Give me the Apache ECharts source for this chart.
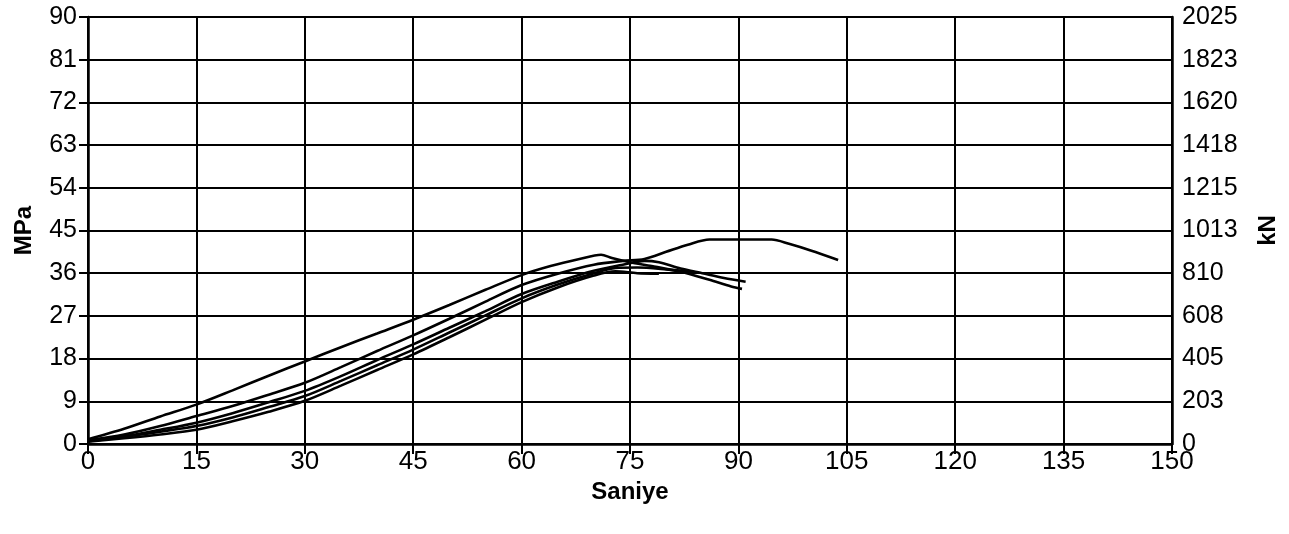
<!DOCTYPE html>
<html>
<head>
<meta charset="utf-8">
<script src="https://cdn.jsdelivr.net/npm/echarts@6/dist/echarts.min.js"></script>
<style>
html,body{margin:0;padding:0;background:#fff;}
#chart{width:1289px;height:534px;}
</style>
</head>
<body>
<div id="chart"></div>
<script>
// Tick labels
const xTicks = [0, 15, 30, 45, 60, 75, 90, 105, 120, 135, 150];
const leftTicks = [0, 9, 18, 27, 36, 45, 54, 63, 72, 81, 90];
const rightTicks = ['0', '203', '405', '608', '810', '1013', '1215', '1418', '1620', '1823', '2025'];

// Series: [seconds, MPa]
const curve1 = [[0,1],[5,3.2],[10,5.8],[15,8.3],[20,11.3],[25,14.4],[30,17.4],[35,20.4],[40,23.3],[45,26.2],[50,29.3],[55,32.5],[60,35.6],[64,37.5],[68,39.0],[71,39.9],[72.5,39.2],[75,38.3],[78,37.5],[82,36.3],[86,34.6],[89,33.2],[90.5,32.7]];
const curve2 = [[0,0.8],[5,2.0],[10,3.8],[15,5.9],[20,8.0],[25,10.4],[30,12.9],[35,16.2],[40,19.6],[45,22.9],[50,26.4],[55,30.0],[60,33.5],[65,35.9],[70,37.8],[74,38.6],[77,39.0],[80,40.5],[83,42.0],[86,43.1],[94.6,43.1],[97,42.2],[100,40.8],[103.8,38.8]];
const curve3 = [[0,0.7],[5,1.6],[10,3.0],[15,4.5],[20,6.5],[25,8.8],[30,11.2],[35,14.3],[40,17.7],[45,21.0],[50,24.5],[55,28.0],[60,31.6],[65,34.2],[70,36.5],[74,37.8],[77,38.6],[79,38.3],[82,37.0],[85,36.0],[88,35.0],[91,34.2]];
const curve4 = [[0,0.5],[5,1.2],[10,2.0],[15,3.0],[20,4.8],[25,6.8],[30,9.1],[35,12.3],[40,15.6],[45,18.9],[50,22.5],[55,26.2],[60,29.9],[65,33.0],[70,35.5],[73,36.4],[76,36.0],[79,35.9]];
const curve5 = [[0,0.6],[5,1.5],[10,2.6],[15,3.8],[20,5.6],[25,7.8],[30,10.1],[35,13.3],[40,16.6],[45,19.9],[50,23.5],[55,27.1],[60,30.7],[65,33.6],[70,36.0],[73,37.1],[76,37.2],[80,36.8],[84,36.2]];

const curves = [curve1, curve2, curve3, curve4, curve5];
const FONT = '"Liberation Sans", Arial, sans-serif';

const chart = echarts.init(document.getElementById('chart'), null, {renderer: 'canvas'});
chart.setOption({
  animation: false,
  backgroundColor: '#fff',
  grid: {left: 88, right: 117, top: 17, bottom: 90, containLabel: false},
  xAxis: {
    type: 'value', min: 0, max: 150, interval: 15,
    name: 'Saniye', nameLocation: 'middle', nameGap: 34,
    nameTextStyle: {fontFamily: FONT, fontSize: 24, fontWeight: 'bold', color: '#000'},
    axisLine: {show: true, onZero: false, lineStyle: {color: '#000', width: 2.5}},
    axisTick: {show: true, length: 10, lineStyle: {color: '#000', width: 2}},
    axisLabel: {fontFamily: FONT, fontSize: 26, color: '#000', margin: 5,
      formatter: v => (xTicks.indexOf(v) >= 0 ? String(v) : '')},
    splitLine: {show: true, lineStyle: {color: '#000', width: 2}}
  },
  yAxis: [{
    type: 'value', position: 'left', min: 0, max: 90, interval: 9,
    name: 'MPa', nameLocation: 'middle', nameGap: 52, nameRotate: 90,
    nameTextStyle: {fontFamily: FONT, fontSize: 24, fontWeight: 'bold', color: '#000'},
    axisLine: {show: true, lineStyle: {color: '#000', width: 2.5}},
    axisTick: {show: true, length: 9, lineStyle: {color: '#000', width: 2}},
    axisLabel: {fontFamily: FONT, fontSize: 25, color: '#000', margin: 11,
      formatter: v => (leftTicks.indexOf(v) >= 0 ? String(v) : '')},
    splitLine: {show: true, lineStyle: {color: '#000', width: 2}}
  }, {
    type: 'value', position: 'right', min: 0, max: 2025, interval: 202.5,
    name: 'kN', nameLocation: 'middle', nameGap: 84, nameRotate: 90,
    nameTextStyle: {fontFamily: FONT, fontSize: 24, fontWeight: 'bold', color: '#000'},
    axisLine: {show: true, lineStyle: {color: '#000', width: 2.5}},
    axisTick: {show: false},
    axisLabel: {fontFamily: FONT, fontSize: 25, color: '#000', margin: 10,
      formatter: v => rightTicks[Math.round(v / 202.5)] || ''},
    splitLine: {show: false}
  }],
  series: curves.map(c => ({
    type: 'line', data: c, yAxisIndex: 0, symbol: 'none', smooth: 0.3,
    lineStyle: {color: '#000', width: 2.6}
  }))
});
</script>
</body>
</html>
